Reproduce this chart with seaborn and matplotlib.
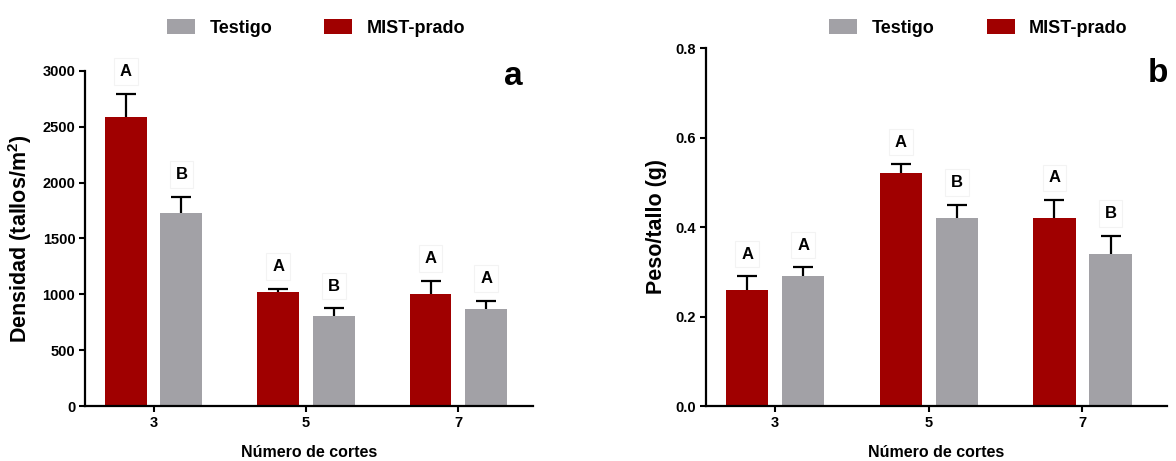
import numpy as np
import pandas as pd
import matplotlib
matplotlib.use("Agg")
import matplotlib.pyplot as plt
import seaborn as sns

# ---------------- data ----------------
cortes = ["3", "5", "7"]
tratamientos = ["MIST-prado", "Testigo"]

densidad_mist = [2590, 1025, 1000]
densidad_mist_err = [205, 25, 120]
densidad_testigo = [1730, 810, 870]
densidad_testigo_err = [145, 65, 70]
densidad_letras_mist = ["A", "A", "A"]
densidad_letras_testigo = ["B", "B", "A"]

peso_mist = [0.26, 0.52, 0.42]
peso_mist_err = [0.03, 0.02, 0.04]
peso_testigo = [0.29, 0.42, 0.34]
peso_testigo_err = [0.02, 0.03, 0.04]
peso_letras_mist = ["A", "A", "A"]
peso_letras_testigo = ["A", "B", "B"]

yticks_a = [0, 500, 1000, 1500, 2000, 2500, 3000]
yticks_b = [0.0, 0.2, 0.4, 0.6, 0.8]

colors = {"MIST-prado": "#a00000", "Testigo": "#a2a1a6"}

# ---------------- style ----------------
sns.set_style("ticks")
plt.rcParams["font.family"] = ["Liberation Sans", "DejaVu Sans"]
plt.rcParams["font.weight"] = "bold"
plt.rcParams["text.color"] = "black"
plt.rcParams["axes.labelcolor"] = "black"
plt.rcParams["xtick.color"] = "black"
plt.rcParams["ytick.color"] = "black"
plt.rcParams["mathtext.fontset"] = "custom"
plt.rcParams["mathtext.rm"] = "Liberation Sans:bold"
plt.rcParams["mathtext.it"] = "Liberation Sans:bold"
plt.rcParams["mathtext.bf"] = "Liberation Sans:bold"

fig = plt.figure(figsize=(11.76, 4.61), dpi=100)
ax_a = fig.add_axes([85 / 1176, 55 / 461, 448 / 1176, 335 / 461])
ax_b = fig.add_axes([706 / 1176, 55 / 461, 461 / 1176, 358 / 461])


def make_df(mist, testigo):
    rows = []
    for c, m, t in zip(cortes, mist, testigo):
        rows.append({"corte": c, "trat": "MIST-prado", "valor": m})
        rows.append({"corte": c, "trat": "Testigo", "valor": t})
    return pd.DataFrame(rows)


def panel(ax, mist, mist_err, testigo, testigo_err, let_m, let_t,
          yticks, ylabel, fmt, xlim, letter, letter_pos, leg_anchor):
    df = make_df(mist, testigo)
    sns.barplot(data=df, x="corte", y="valor", hue="trat", order=cortes,
                hue_order=tratamientos, palette=colors, width=0.73, gap=0.247,
                errorbar=None, ax=ax, saturation=1, edgecolor="none",
                legend=False)
    errs = [mist_err, testigo_err]
    lets = [let_m, let_t]
    for cont, err, lt in zip(list(ax.containers), errs, lets):
        xs = [b.get_x() + b.get_width() / 2 for b in cont]
        hs = [b.get_height() for b in cont]
        _, caps, _ = ax.errorbar(xs, hs, yerr=[np.zeros(len(err)), err],
                                 fmt="none", ecolor="black", elinewidth=1.6,
                                 capsize=7, capthick=1.6, zorder=3)
        for cl in caps:
            yd = np.asarray(cl.get_ydata(), dtype=float)
            if np.allclose(yd, np.asarray(hs, dtype=float)):
                cl.set_visible(False)
        for x, h, e, l in zip(xs, hs, err, lt):
            ax.annotate(l, (x, h + e), xytext=(0, 16), textcoords="offset points",
                        ha="center", va="center", fontsize=12, fontweight="bold",
                        bbox=dict(boxstyle="square,pad=0.35", fc="white",
                                  ec="#f3f3f3", lw=0.8))
    ax.set_ylim(yticks[0], yticks[-1])
    ax.set_yticks(yticks)
    ax.set_yticklabels([fmt(v) for v in yticks])
    ax.set_xlim(*xlim)
    sns.despine(ax=ax)
    for s in ["left", "bottom"]:
        ax.spines[s].set_linewidth(1.6)
        ax.spines[s].set_color("black")
    ax.tick_params(axis="both", width=1.5, length=4.5, color="black",
                   labelcolor="black", labelsize=10.5, pad=2.5)
    for t in ax.get_xticklabels() + ax.get_yticklabels():
        t.set_fontweight("bold")
    ax.set_xlabel("Número de cortes", fontsize=11.5, fontweight="bold",
                  labelpad=11)
    ax.set_ylabel(ylabel, fontsize=15.5, fontweight="bold", labelpad=6)
    ax.text(letter_pos[0], letter_pos[1], letter, transform=ax.transAxes,
            fontsize=24, fontweight="bold", ha="center", va="center")
    handles = [plt.Rectangle((0, 0), 1, 1, fc=colors["Testigo"], ec="none"),
               plt.Rectangle((0, 0), 1, 1, fc=colors["MIST-prado"], ec="none")]
    ax.legend(handles, ["Testigo", "MIST-prado"], ncol=2, frameon=False,
              loc="center", bbox_to_anchor=leg_anchor,
              prop={"size": 13, "weight": "bold"}, handlelength=1.55,
              handleheight=0.85, handletextpad=0.8, columnspacing=2.9)


panel(ax_a, densidad_mist, densidad_mist_err, densidad_testigo,
      densidad_testigo_err, densidad_letras_mist, densidad_letras_testigo,
      yticks_a, "Densidad (tallos/m$^{2}$)", lambda v: f"{v:d}",
      (-0.45, 2.49), "a", (0.955, 0.985), (0.516, 1.128))
panel(ax_b, peso_mist, peso_mist_err, peso_testigo, peso_testigo_err,
      peso_letras_mist, peso_letras_testigo, yticks_b, "Peso/tallo (g)",
      lambda v: f"{v:.1f}", (-0.45, 2.55), "b", (0.98, 0.93),
      (0.591, 1.056))

fig.savefig("out.png", dpi=100)
